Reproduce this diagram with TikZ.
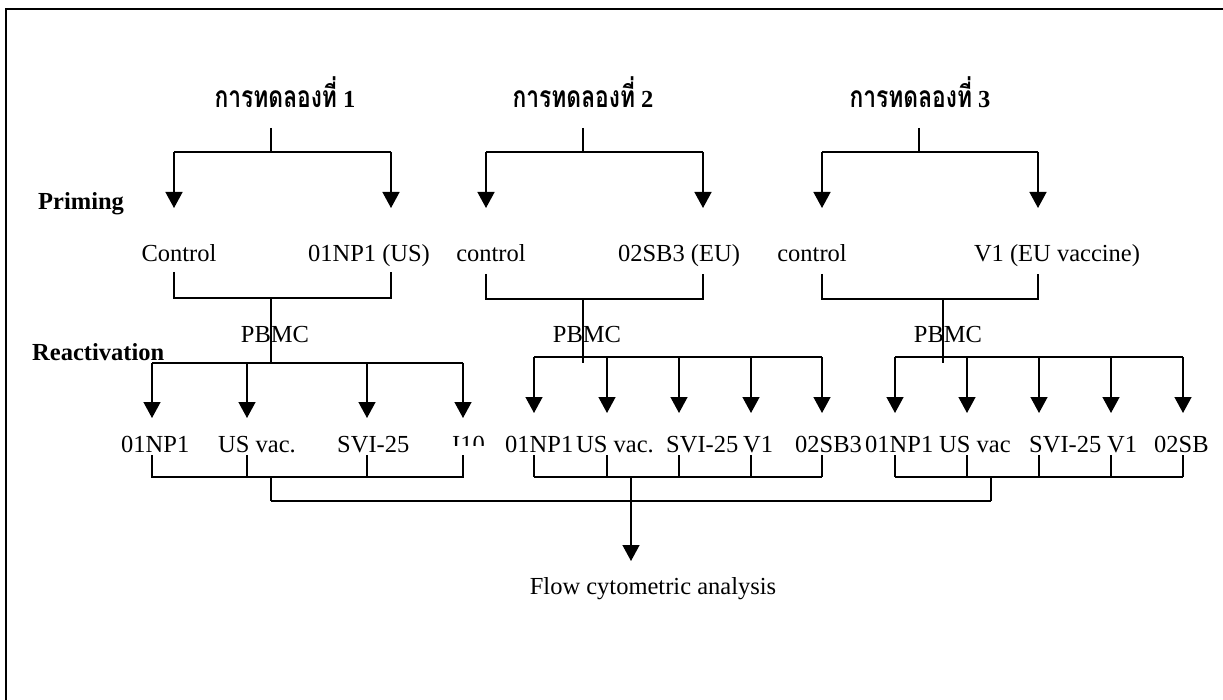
\documentclass[tikz,border=0pt]{standalone}
\usepackage{fontspec}
\usepackage{graphicx}
\setmainfont{Liberation Serif}
\newfontfamily\thaifont[Script=Thai]{Loma}
\usetikzlibrary{arrows.meta}
\newcommand\labfont{\fontsize{24.5}{29}\selectfont}
\newcommand\thtitle[1]{\scalebox{0.76}[1]{\fontsize{30}{34}\selectfont\thaifont\bfseries การทดลองที่}{\labfont\bfseries\ #1}}
\tikzset{
  conn/.style={line width=1.4pt},
  arr/.style={conn,-{Triangle[width=17pt,length=16pt]}},
  lab/.style={font=\labfont, inner sep=0pt, anchor=base},
  labw/.style={font=\labfont, inner sep=0pt, anchor=base west},
  side/.style={font=\labfont\bfseries, inner sep=0pt, anchor=base west},
  ttl/.style={inner sep=0pt, anchor=base},
  frame/.style={line width=2.5pt}
}
\begin{document}
\begin{tikzpicture}[x=1pt,y=-1pt]
\useasboundingbox (0,0) rectangle (1223,700);
\fill[white] (0,0) rectangle (1223,700);
% frame (top and left edges visible)
\coordinate (fbl) at (6,700);
\coordinate (ftl) at (6,9);
\coordinate (ftr) at (1223,9);
\draw[frame] (fbl) -- (ftl) -- (ftr);

% titles
\node[ttl] (t1) at (285,108) {\thtitle{1}};
\node[ttl] (t2) at (583,108) {\thtitle{2}};
\node[ttl] (t3) at (920,108) {\thtitle{3}};

% side labels
\node[side] (prim) at (38,210) {Priming};
\node[side] (react) at (32,361) {Reactivation};

% priming nodes
\node[lab] (c1) at (179,262) {Control};
\node[lab] (p1) at (369,262) {01NP1 (US)};
\node[lab] (c2) at (491,262) {control};
\node[lab] (p2) at (679,262) {02SB3 (EU)};
\node[lab] (c3) at (812,262) {control};
\node[lab] (p3) at (1057,262) {V1 (EU vaccine)};

% ---------- experiment 1 ----------
\coordinate (a1) at (271,128); \coordinate (b1) at (271,152);
\coordinate (bl1) at (174,152); \coordinate (br1) at (391,152);
\coordinate (al1) at (174,208); \coordinate (ar1) at (391,208);
\draw[conn] (a1) -- (b1);
\draw[conn] (bl1) -- (br1);
\draw[arr] (bl1) -- (al1);
\draw[arr] (br1) -- (ar1);
\coordinate (cl1) at (174,272); \coordinate (cr1) at (391,272);
\coordinate (dl1) at (174,298); \coordinate (dr1) at (391,298);
\coordinate (dm1) at (271,298); \coordinate (em1) at (271,363);
\draw[conn] (cl1) -- (dl1) -- (dr1) -- (cr1);
\draw[conn] (dm1) -- (em1);
\node[lab] (pb1) at (275,343) {PBMC};
\coordinate (r1a) at (152,363); \coordinate (r1b) at (247,363);
\coordinate (r1c) at (367,363); \coordinate (r1d) at (463,363);
\draw[conn] (r1a) -- (r1d);
\coordinate (s1a) at (152,418); \coordinate (s1b) at (247,418);
\coordinate (s1c) at (367,418); \coordinate (s1d) at (463,418);
\draw[arr] (r1a) -- (s1a);
\draw[arr] (r1b) -- (s1b);
\draw[arr] (r1c) -- (s1c);
\draw[arr] (r1d) -- (s1d);
\node[labw] (x1a) at (121,452) {01NP1};
\node[labw] (x1b) at (218,452) {US vac.};
\node[labw] (x1c) at (337,452) {SVI-25};
\begin{scope}
\clip (440,420) rectangle (500,445);
\node[labw] (x1d) at (452,452) {I10};
\end{scope}
\coordinate (u1a) at (152,455); \coordinate (u1b) at (247,455);
\coordinate (u1c) at (367,455); \coordinate (u1d) at (463,455);
\coordinate (v1a) at (152,477); \coordinate (v1b) at (247,477);
\coordinate (v1c) at (367,477); \coordinate (v1d) at (463,477);
\draw[conn] (u1a) -- (v1a) -- (v1d) -- (u1d);
\draw[conn] (u1b) -- (v1b);
\draw[conn] (u1c) -- (v1c);
\coordinate (w1) at (271,477); \coordinate (z1) at (271,501);
\draw[conn] (w1) -- (z1);

% ---------- experiment 2 ----------
\coordinate (a2) at (583,128); \coordinate (b2) at (583,152);
\coordinate (bl2) at (486,152); \coordinate (br2) at (703,152);
\coordinate (al2) at (486,208); \coordinate (ar2) at (703,208);
\draw[conn] (a2) -- (b2);
\draw[conn] (bl2) -- (br2);
\draw[arr] (bl2) -- (al2);
\draw[arr] (br2) -- (ar2);
\coordinate (cl2) at (486,274); \coordinate (cr2) at (703,274);
\coordinate (dl2) at (486,299); \coordinate (dr2) at (703,299);
\coordinate (dm2) at (583,299); \coordinate (em2) at (583,363);
\draw[conn] (cl2) -- (dl2) -- (dr2) -- (cr2);
\draw[conn] (dm2) -- (em2);
\node[lab] (pb2) at (587,343) {PBMC};
\coordinate (r2a) at (534,357); \coordinate (r2b) at (607,357);
\coordinate (r2c) at (679,357); \coordinate (r2d) at (751,357);
\coordinate (r2e) at (822,357);
\draw[conn] (r2a) -- (r2e);
\foreach \n/\x in {a/534,b/607,c/679,d/751,e/822}{
  \coordinate (s2\n) at (\x,413);
  \draw[arr] (r2\n) -- (s2\n);
}
\node[labw] (x2a) at (505,452) {01NP1};
\node[labw] (x2b) at (576,452) {US vac.};
\node[labw] (x2c) at (666,452) {SVI-25};
\node[labw] (x2d) at (743,452) {V1};
\node[labw] (x2e) at (795,452) {02SB3};
\foreach \n/\x in {a/534,b/607,c/679,d/751,e/822}{
  \coordinate (u2\n) at (\x,455);
  \coordinate (v2\n) at (\x,477);
  \draw[conn] (u2\n) -- (v2\n);
}
\draw[conn] (v2a) -- (v2e);

% ---------- experiment 3 ----------
\coordinate (a3) at (919,128); \coordinate (b3) at (919,152);
\coordinate (bl3) at (822,152); \coordinate (br3) at (1038,152);
\coordinate (al3) at (822,208); \coordinate (ar3) at (1038,208);
\draw[conn] (a3) -- (b3);
\draw[conn] (bl3) -- (br3);
\draw[arr] (bl3) -- (al3);
\draw[arr] (br3) -- (ar3);
\coordinate (cl3) at (822,274); \coordinate (cr3) at (1038,274);
\coordinate (dl3) at (822,299); \coordinate (dr3) at (1038,299);
\coordinate (dm3) at (943,299); \coordinate (em3) at (943,363);
\draw[conn] (cl3) -- (dl3) -- (dr3) -- (cr3);
\draw[conn] (dm3) -- (em3);
\node[lab] (pb3) at (948,343) {PBMC};
\coordinate (r3a) at (895,357); \coordinate (r3b) at (967,357);
\coordinate (r3c) at (1039,357); \coordinate (r3d) at (1111,357);
\coordinate (r3e) at (1183,357);
\draw[conn] (r3a) -- (r3e);
\foreach \n/\x in {a/895,b/967,c/1039,d/1111,e/1183}{
  \coordinate (s3\n) at (\x,413);
  \draw[arr] (r3\n) -- (s3\n);
}
\node[labw] (x3a) at (865,452) {01NP1};
\node[labw] (x3b) at (939,452) {US vac};
\node[labw] (x3c) at (1029,452) {SVI-25};
\node[labw] (x3d) at (1107,452) {V1};
\node[labw] (x3e) at (1154,452) {02SB};
\foreach \n/\x in {a/895,b/967,c/1039,d/1111,e/1183}{
  \coordinate (u3\n) at (\x,455);
  \coordinate (v3\n) at (\x,477);
  \draw[conn] (u3\n) -- (v3\n);
}
\draw[conn] (v3a) -- (v3e);
\coordinate (w3) at (991,477); \coordinate (z3) at (991,501);
\draw[conn] (w3) -- (z3);

% ---------- merge ----------
\draw[conn] (z1) -- (z3);
\coordinate (w2) at (631,477); \coordinate (tip) at (631,561);
\node[lab] (flow) at (653,594) {Flow cytometric analysis};
\draw[arr] (w2) -- (tip);
\end{tikzpicture}
\end{document}
